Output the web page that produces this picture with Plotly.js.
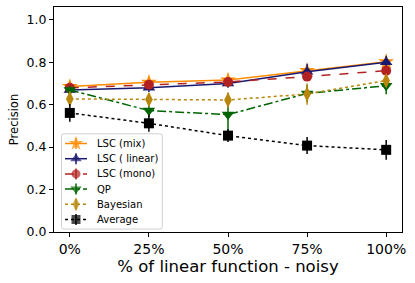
<!DOCTYPE html>
<html><head><meta charset="utf-8">
<script src="https://cdn.plot.ly/plotly-3.0.1.min.js"></script>
<style>html,body{margin:0;padding:0;background:#fff}#chart{width:415px;height:283px}</style>
</head><body><div id="chart"></div>
<script>
const categories = ['0%','25%','50%','75%','100%'];
const xPos = [0,1,2,3,4];
const seriesNames = ['LSC (mix)','LSC ( linear)','LSC (mono)','QP','Bayesian','Average'];
const lscMix = [0.685,0.705,0.716,0.760,0.802];
const lscMixErr = [0.02,0.02,0.02,0.02,0.02];
const lscLinear = [0.669,0.679,0.700,0.755,0.800];
const lscLinearErr = [0.02,0.02,0.02,0.038,0.03];
const lscMono = [0.679,0.694,0.707,0.732,0.760];
const lscMonoErr = [0.015,0.015,0.015,0.02,0.02];
const qp = [0.669,0.572,0.553,0.653,0.689];
const qpErr = [0.02,0.03,0.08,0.04,0.04];
const bayes = [0.627,0.624,0.622,0.650,0.713];
const bayesErr = [0.035,0.03,0.035,0.05,0.03];
const avg = [0.561,0.512,0.454,0.407,0.387];
const avgErr = [0.042,0.04,0.03,0.04,0.047];

const styles = [
  {color:'#ff8c00', dash:'solid', symbol:'star', size:12},
  {color:'#191970', dash:'solid', symbol:'triangle-up', size:11},
  {color:'#b22222', dash:'dash', symbol:'circle', size:10},
  {color:'#006400', dash:'dashdot', symbol:'triangle-down', size:11},
  {color:'#b8860b', dash:'dot', symbol:'diamond-tall', size:11},
  {color:'#000000', dash:'dot', symbol:'square', size:10}
];
const ys = [lscMix, lscLinear, lscMono, qp, bayes, avg];
const errs = [lscMixErr, lscLinearErr, lscMonoErr, qpErr, bayesErr, avgErr];

const data = [];
ys.forEach((y,i)=>{
  const s = styles[i];
  data.push({x:xPos, y:y, name:seriesNames[i], type:'scatter', mode:'lines+markers',
    line:{color:s.color, width:1.5, dash:s.dash},
    marker:{color:s.color, symbol:s.symbol, size:s.size, line:{width:0}},
    error_y:{type:'data', array:errs[i], visible:true, color:s.color, thickness:1.5, width:0},
    showlegend:false});
});

// hand-built legend on an overlay axis measured in pixels
const annotations = [];
const legTop = 143.5, legStep = 15.2;
seriesNames.forEach((n,i)=>{
  const s = styles[i];
  const yy = legTop + legStep*i;
  data.push({x:[65,76,87], y:[yy,yy,yy], xaxis:'x2', yaxis:'y2', type:'scatter', mode:'lines+markers',
    line:{color:s.color, width:1.5, dash:s.dash},
    marker:{color:s.color, symbol:s.symbol, size:[0,s.size-1,0], line:{width:0}},
    error_y:{type:'data', array:[0,5.5,0], visible:true, color:s.color, thickness:1.5, width:0},
    showlegend:false, hoverinfo:'skip'});
  annotations.push({xref:'x2', yref:'y2', x:95, y:yy, text:n, showarrow:false,
    xanchor:'left', yanchor:'middle', font:{size:10, family:'DejaVu Sans', color:'#000'}});
});

const bx0=61.5, bx1=162.3, by0=133.8, by1=229, r=2.5;
const boxPath = `M ${bx0+r},${by0} L ${bx1-r},${by0} Q ${bx1},${by0} ${bx1},${by0+r} L ${bx1},${by1-r} Q ${bx1},${by1} ${bx1-r},${by1} L ${bx0+r},${by1} Q ${bx0},${by1} ${bx0},${by1-r} L ${bx0},${by0+r} Q ${bx0},${by0} ${bx0+r},${by0} Z`;

const layout = {
  width:415, height:283,
  margin:{l:54, r:13, t:7, b:51},
  paper_bgcolor:'#fff', plot_bgcolor:'#fff',
  font:{family:'DejaVu Sans', color:'#000'},
  showlegend:false,
  xaxis:{range:[-0.2,4.2], tickvals:xPos, ticktext:categories,
    showgrid:false, zeroline:false, showline:true, mirror:true, linecolor:'#000', linewidth:1,
    ticks:'outside', ticklen:4, tickcolor:'#000', tickfont:{size:14},
    title:{text:'% of linear function - noisy', font:{size:16.5}, standoff:3}},
  yaxis:{range:[0,1.06], tickvals:[0,0.2,0.4,0.6,0.8,1.0], ticktext:['0.0','0.2','0.4','0.6','0.8','1.0'],
    showgrid:false, zeroline:false, showline:true, mirror:true, linecolor:'#000', linewidth:1,
    ticks:'outside', ticklen:4, tickcolor:'#000', tickfont:{size:12.5},
    title:{text:'Precision', font:{size:11.5}, standoff:5}},
  xaxis2:{overlaying:'x', anchor:'y2', range:[54,402], visible:false, fixedrange:true},
  yaxis2:{overlaying:'y', anchor:'x2', range:[232,7], visible:false, fixedrange:true},
  shapes:[{type:'path', xref:'x2', yref:'y2', path:boxPath,
    line:{color:'#d0d0d0', width:1}, fillcolor:'rgba(255,255,255,0.8)', layer:'below'}],
  annotations:annotations
};
Plotly.newPlot('chart', data, layout, {displayModeBar:false, staticPlot:true});
</script></body></html>
